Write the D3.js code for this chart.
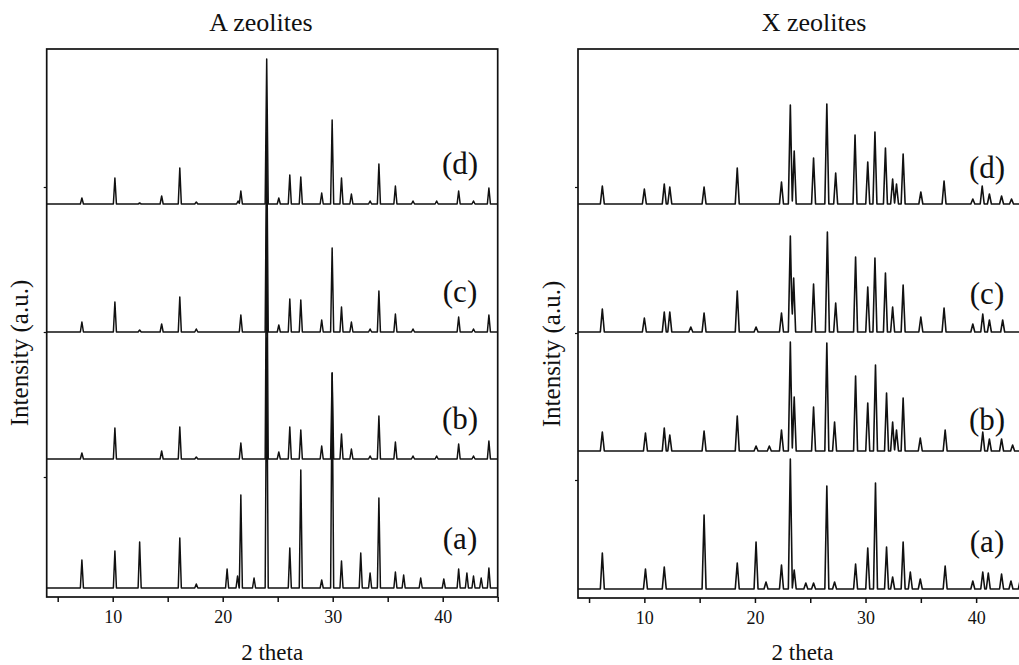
<!DOCTYPE html>
<html>
<head>
<meta charset="utf-8">
<script src="https://cdn.jsdelivr.net/npm/d3@7"></script>
<style>
  body { margin: 0; background: #fff; }
  svg { display: block; }
  text { font-family: "Liberation Serif", "Times New Roman", Times, serif; fill: #111; }
</style>
</head>
<body>
<svg id="chart" width="1019" height="665"></svg>
<script>
// XRD reflections for each sample: [2theta (deg), intensity above the trace baseline (a.u.)]
const zeoliteA_a = [[7.2,28],[10.2,37],[12.45,46],[16.1,50],[17.6,4],[20.4,19],[21.35,12],[21.65,93],[22.85,10],[24.0,250],[26.1,40],[27.1,118],[29.0,8],[29.95,215],[30.8,27],[32.55,35],[33.4,15],[34.2,90],[35.7,16],[36.45,13],[38.0,10],[40.1,9],[41.45,19],[42.2,15],[42.8,12],[43.5,10],[44.2,20]];
const zeoliteA_b = [[7.2,6],[10.2,31],[14.45,8],[16.1,32],[17.6,2],[21.65,16],[24.0,250],[25.1,7],[26.1,32],[27.1,29],[29.0,13],[29.95,86],[30.8,25],[31.7,10],[33.4,3],[34.2,43],[35.7,17],[37.3,3],[39.45,3],[41.45,15],[42.8,3],[44.2,18]];
const zeoliteA_c = [[7.2,10],[10.2,30],[12.45,2],[14.45,8],[16.1,35],[17.6,3],[21.65,17],[24.0,200],[25.1,7],[26.1,33],[27.1,32],[29.0,12],[29.95,84],[30.8,25],[31.7,10],[33.4,3],[34.2,41],[35.7,18],[37.3,3],[41.45,15],[42.8,3],[44.2,17]];
const zeoliteA_d = [[7.2,6],[10.2,26],[12.45,1],[14.45,8],[16.1,36],[17.6,2],[21.4,3],[21.65,13],[24.0,145],[25.1,6],[26.1,29],[27.1,27],[29.0,11],[29.95,84],[30.8,26],[31.7,10],[33.4,3],[34.2,40],[35.7,18],[37.3,3],[39.45,3],[41.45,13],[42.8,3],[44.2,16]];

const zeoliteX_a = [[6.2,36],[10.1,20],[11.8,22],[15.4,74],[18.4,26],[20.1,47],[21.0,7],[22.4,24],[23.2,130],[23.55,19],[24.6,6],[25.3,6],[26.5,103],[27.2,7],[29.1,25],[30.2,41],[30.9,106],[31.9,42],[32.45,12],[33.4,47],[34.05,17],[34.95,10],[37.2,23],[39.7,8],[40.6,17],[41.1,16],[42.3,15],[43.15,8],[44.0,10]];
const zeoliteX_b = [[6.2,19],[10.1,18],[11.8,23],[12.3,16],[15.4,20],[18.4,35],[20.1,5],[21.3,5],[22.4,21],[23.2,109],[23.55,54],[25.3,44],[26.5,108],[27.2,29],[29.1,75],[30.2,48],[30.9,86],[31.9,58],[32.45,29],[32.8,21],[33.4,53],[34.95,13],[37.2,21],[40.6,19],[41.2,12],[42.3,12],[43.3,6]];
const zeoliteX_c = [[6.2,23],[10.0,14],[11.8,20],[12.3,20],[14.2,5],[15.4,19],[18.4,41],[20.1,5],[22.4,19],[23.2,96],[23.5,54],[25.3,48],[26.55,100],[27.3,29],[29.1,75],[30.2,45],[30.85,74],[31.8,59],[32.45,25],[33.4,47],[35.0,15],[37.1,24],[39.7,8],[40.6,18],[41.2,12],[42.4,12]];
const zeoliteX_d = [[6.2,18],[10.0,15],[11.8,20],[12.3,17],[15.4,17],[18.4,36],[22.4,22],[23.2,99],[23.55,53],[25.3,46],[26.5,100],[27.3,31],[29.05,69],[30.2,42],[30.85,72],[31.8,56],[32.45,25],[32.8,20],[33.4,50],[35.0,12],[37.1,23],[39.7,5],[40.55,18],[41.2,10],[42.3,8],[43.2,5]];

// Trace names and vertical stacking offsets (a.u.)
const sampleLabels = ["(a)", "(b)", "(c)", "(d)"];
const offsetsA = [0, 129, 256, 384];
const offsetsX = [0, 138, 257, 385];

// Axis ticks
const thetaTicks = [5, 10, 15, 20, 25, 30, 35, 40, 45];
const thetaTickLabels = [10, 20, 30, 40];

const svg = d3.select("#chart");

const panels = [
  {
    id: "A", title: "A zeolites",
    series: [zeoliteA_a, zeoliteA_b, zeoliteA_c, zeoliteA_d], offsets: offsetsA,
    left: 46.7, right: 497.7, top: 49, bottom: 597,
    xDomain: [4, 45], yDomain: [-9, 539], halfWidth: 0.14, strokeW: 1.5,
    yTicks: [111, 256, 401],
    titleX: 261, ylabelX: 28, ylabelY: 353,
    labelX: 460, labelY: [549, 429, 302, 174]
  },
  {
    id: "X", title: "X zeolites",
    series: [zeoliteX_a, zeoliteX_b, zeoliteX_c, zeoliteX_d], offsets: offsetsX,
    left: 578, right: 1027, top: 49, bottom: 598,
    xDomain: [4, 44.6], yDomain: [-9, 540], halfWidth: 0.18, strokeW: 1.6,
    yTicks: [109, 256, 402],
    titleX: 814, ylabelX: 560, ylabelY: 354,
    labelX: 987, labelY: [552, 430, 304, 178]
  }
];

// Turn a reflection list into a stick-peak profile along 2theta
function profile(peaks, domain, hw, base) {
  const stops = new Set([domain[0], domain[1]]);
  peaks.forEach(([p]) => { stops.add(p - hw); stops.add(p); stops.add(p + hw); });
  const xs = Array.from(stops).filter(v => v >= domain[0] && v <= domain[1]).sort((a, b) => a - b);
  return xs.map(t => {
    let v = 0;
    peaks.forEach(([p, h]) => {
      const d = Math.abs(t - p);
      if (d < hw) v += h * (1 - d / hw);
    });
    return [t, base + v];
  });
}

panels.forEach(P => {
  const x = d3.scaleLinear().domain(P.xDomain).range([P.left, P.right]);
  const y = d3.scaleLinear().domain(P.yDomain).range([P.bottom, P.top]);
  const g = svg.append("g");

  const clipId = "clip-" + P.id;
  svg.append("clipPath").attr("id", clipId)
    .append("rect")
    .attr("x", P.left).attr("y", P.top)
    .attr("width", P.right - P.left).attr("height", P.bottom - P.top);

  const line = d3.line().x(d => x(d[0])).y(d => y(d[1]));

  const traces = g.append("g").attr("clip-path", `url(#${clipId})`);
  P.series.forEach((s, i) => {
    traces.append("path")
      .datum(profile(s, P.xDomain, P.halfWidth, P.offsets[i]))
      .attr("d", line)
      .attr("fill", "none")
      .attr("stroke", "#111")
      .attr("stroke-width", P.strokeW)
      .attr("stroke-linejoin", "round");
  });

  // Frame
  g.append("rect")
    .attr("x", P.left).attr("y", P.top)
    .attr("width", P.right - P.left).attr("height", P.bottom - P.top)
    .attr("fill", "none").attr("stroke", "#111").attr("stroke-width", 1.7);

  // Bottom axis
  const xAxis = d3.axisBottom(x)
    .tickValues(thetaTicks.filter(t => t >= P.xDomain[0] && t <= P.xDomain[1]))
    .tickSize(5).tickPadding(8)
    .tickFormat(d => thetaTickLabels.includes(d) ? d : "");
  const ax = g.append("g").attr("transform", `translate(0,${P.bottom})`).call(xAxis);
  ax.select(".domain").remove();
  ax.selectAll(".tick line").attr("stroke", "#111").attr("stroke-width", 1.5);
  ax.selectAll(".tick text")
    .style("font-family", '"Liberation Serif", "Times New Roman", serif')
    .style("font-size", "18px").attr("fill", "#111");

  // Left axis (unlabelled ticks)
  const yAxis = d3.axisLeft(y).tickValues(P.yTicks).tickSize(3).tickFormat("");
  const ay = g.append("g").attr("transform", `translate(${P.left},0)`).call(yAxis);
  ay.select(".domain").remove();
  ay.selectAll(".tick line").attr("stroke", "#111").attr("stroke-width", 1.2);

  // Title
  g.append("text")
    .attr("x", P.titleX).attr("y", 31)
    .attr("text-anchor", "middle")
    .style("font-size", "26px")
    .text(P.title);

  // Axis titles
  g.append("text")
    .attr("x", (P.left + P.right) / 2).attr("y", 660)
    .attr("text-anchor", "middle")
    .style("font-size", "23px")
    .text("2 theta");

  g.append("text")
    .attr("transform", `translate(${P.ylabelX},${P.ylabelY}) rotate(-90)`)
    .attr("text-anchor", "middle")
    .style("font-size", "25px")
    .text("Intensity (a.u.)");

  // Sample labels
  sampleLabels.forEach((lab, i) => {
    g.append("text")
      .attr("x", P.labelX).attr("y", P.labelY[i])
      .attr("text-anchor", "middle")
      .style("font-size", "31px")
      .text(lab);
  });
});
</script>
</body>
</html>
